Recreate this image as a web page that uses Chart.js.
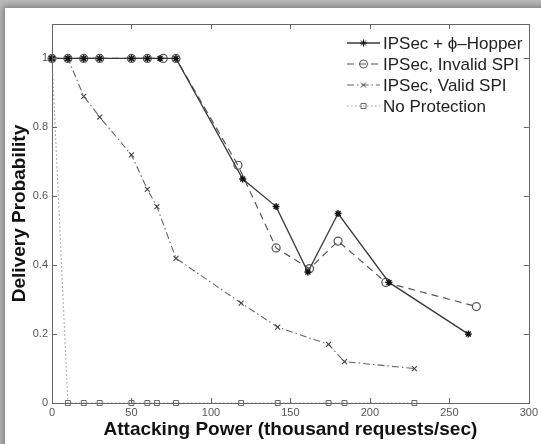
<!DOCTYPE html>
<html>
<head>
<meta charset="utf-8">
<script src="https://cdn.jsdelivr.net/npm/chart.js@4/dist/chart.umd.min.js"></script>
<style>
  html, body { margin: 0; padding: 0; width: 541px; height: 444px; overflow: hidden; background: #bcbcbc; }
  .card { position: absolute; left: 5px; top: 8px; width: 560px; height: 470px; background: #fff;
          box-shadow: 0 0 7px 2px rgba(0,0,0,0.35); }
  #chart { position: absolute; left: 0; top: 0; }
</style>
</head>
<body>
<div class="card"></div>
<canvas id="chart" width="541" height="444"></canvas>
<script>
// ---- data ----
const hopperX  = [0, 10, 20, 30, 50, 60, 68, 78, 120, 141, 161, 180, 212, 262];
const hopperY  = [1, 1, 1, 1, 1, 1, 1, 1, 0.65, 0.57, 0.38, 0.55, 0.35, 0.20];

const invalidX = [0, 10, 20, 30, 50, 60, 70, 78, 117, 141, 162, 180, 210, 267];
const invalidY = [1, 1, 1, 1, 1, 1, 1, 1, 0.69, 0.45, 0.39, 0.47, 0.35, 0.28];

const validX   = [0, 10, 20, 30, 50, 60, 66, 78, 119, 142, 174, 184, 228];
const validY   = [1, 1, 0.89, 0.83, 0.72, 0.62, 0.57, 0.42, 0.29, 0.22, 0.17, 0.12, 0.10];

const noProtX  = [0, 10, 20, 30, 50, 60, 66, 78, 119, 142, 174, 184, 228];
const noProtY  = [1, 0, 0, 0, 0, 0, 0, 0, 0, 0, 0, 0, 0];

const labels = ["IPSec + \u03D5\u2013Hopper", "IPSec, Invalid SPI", "IPSec, Valid SPI", "No Protection"];
const xTicks = [0, 50, 100, 150, 200, 250, 300];
const yTicks = [0, 0.2, 0.4, 0.6, 0.8, 1];

const FONT = "'Liberation Sans', Arial, Helvetica, sans-serif";

function toPoints(xs, ys) {
    return xs.map((x, i) => ({ x, y: ys[i] }));
}

// frame + inward ticks on all four sides (matlab style)
const frameTicks = {
    id: "frameTicks",
    afterDatasetsDraw(chart) {
        const { ctx, chartArea: a, scales } = chart;
        const len = 5;
        ctx.save();
        ctx.strokeStyle = "#666";
        ctx.lineWidth = 1;
        ctx.strokeRect(Math.round(a.left) + 0.5, Math.round(a.top) + 0.5,
            Math.round(a.right - a.left), Math.round(a.bottom - a.top));
        ctx.beginPath();
        xTicks.forEach((v) => {
            const px = Math.round(scales.x.getPixelForValue(v)) + 0.5;
            ctx.moveTo(px, a.bottom); ctx.lineTo(px, a.bottom - len);
            ctx.moveTo(px, a.top); ctx.lineTo(px, a.top + len);
        });
        yTicks.forEach((v) => {
            const py = Math.round(scales.y.getPixelForValue(v)) + 0.5;
            ctx.moveTo(a.left, py); ctx.lineTo(a.left + len, py);
            ctx.moveTo(a.right, py); ctx.lineTo(a.right - len, py);
        });
        ctx.stroke();
        ctx.restore();
    }
};

// legend drawn inside the plot, top right
const insideLegend = {
    id: "insideLegend",
    afterDraw(chart) {
        const { ctx } = chart;
        const x0 = 347, x1 = 380, tx = 383;
        const rows = [43, 64, 85, 106];
        ctx.save();
        chart.data.datasets.forEach((ds, i) => {
            const y = rows[i];
            ctx.strokeStyle = ds.borderColor;
            ctx.lineWidth = ds.borderWidth;
            ctx.setLineDash(ds.borderDash || []);
            ctx.beginPath();
            ctx.moveTo(x0, y);
            ctx.lineTo(x1, y);
            ctx.stroke();
            ctx.setLineDash([]);
            ctx.strokeStyle = ds.pointBorderColor;
            ctx.fillStyle = ds.pointBackgroundColor;
            ctx.lineWidth = 1;
            Chart.helpers.drawPoint(ctx, {
                pointStyle: ds.pointStyle,
                radius: ds.pointRadius,
                borderWidth: 1,
                rotation: 0
            }, (x0 + x1) / 2, y);
            ctx.fillStyle = "#222";
            ctx.font = "17px " + FONT;
            ctx.textBaseline = "middle";
            ctx.fillText(labels[i], tx, y + 1);
        });
        ctx.restore();
    }
};

new Chart(document.getElementById("chart"), {
    type: "scatter",
    data: {
        datasets: [
            {
                label: labels[0],
                data: toPoints(hopperX, hopperY),
                showLine: true,
                borderColor: "#3a3a3a",
                borderWidth: 1.3,
                pointStyle: "star",
                pointRadius: 3.5,
                pointBorderColor: "#111",
                pointBackgroundColor: "#111",
                pointBorderWidth: 1.4
            },
            {
                label: labels[1],
                data: toPoints(invalidX, invalidY),
                showLine: true,
                borderColor: "#555",
                borderWidth: 1.2,
                borderDash: [7, 5],
                pointStyle: "circle",
                pointRadius: 4,
                pointBorderColor: "#555",
                pointBackgroundColor: "rgba(0,0,0,0)",
                pointBorderWidth: 1.2
            },
            {
                label: labels[2],
                data: toPoints(validX, validY),
                showLine: true,
                borderColor: "#666",
                borderWidth: 1.1,
                borderDash: [7, 3, 1.5, 3],
                pointStyle: "crossRot",
                pointRadius: 3.5,
                pointBorderColor: "#444",
                pointBackgroundColor: "#444",
                pointBorderWidth: 1.1
            },
            {
                label: labels[3],
                data: toPoints(noProtX, noProtY),
                showLine: true,
                borderColor: "#999",
                borderWidth: 1.1,
                borderDash: [1.5, 2.5],
                pointStyle: "rect",
                pointRadius: 3.5,
                pointBorderColor: "#666",
                pointBackgroundColor: "rgba(0,0,0,0)",
                pointBorderWidth: 1
            }
        ]
    },
    options: {
        responsive: false,
        animation: false,
        clip: false,
        layout: { padding: { left: 0, top: 24, right: 12, bottom: 0 } },
        plugins: {
            legend: { display: false },
            tooltip: { enabled: false }
        },
        scales: {
            x: {
                type: "linear",
                min: 0,
                max: 300,
                afterFit: (scale) => { scale.height = 41; },
                afterBuildTicks: (scale) => { scale.ticks = xTicks.map((v) => ({ value: v })); },
                grid: { display: false, drawTicks: false },
                border: { display: false },
                ticks: {
                    color: "#555",
                    padding: 3,
                    maxRotation: 0,
                    font: { family: FONT, size: 11 }
                },
                title: {
                    display: true,
                    text: "Attacking Power (thousand requests/sec)",
                    color: "#111",
                    padding: { top: 0, bottom: 3 },
                    font: { family: FONT, size: 19, weight: "bold" }
                }
            },
            y: {
                type: "linear",
                min: 0,
                max: 1.1,
                afterFit: (scale) => { scale.width = 52; },
                afterBuildTicks: (scale) => { scale.ticks = yTicks.map((v) => ({ value: v })); },
                grid: { display: false, drawTicks: false },
                border: { display: false },
                ticks: {
                    color: "#555",
                    padding: 4,
                    font: { family: FONT, size: 11 },
                    callback: (v) => String(Math.round(v * 10) / 10)
                },
                title: {
                    display: true,
                    text: "Delivery Probability",
                    color: "#111",
                    padding: { top: 8, bottom: 0 },
                    font: { family: FONT, size: 19, weight: "bold" }
                }
            }
        }
    },
    plugins: [frameTicks, insideLegend]
});
</script>
</body>
</html>
